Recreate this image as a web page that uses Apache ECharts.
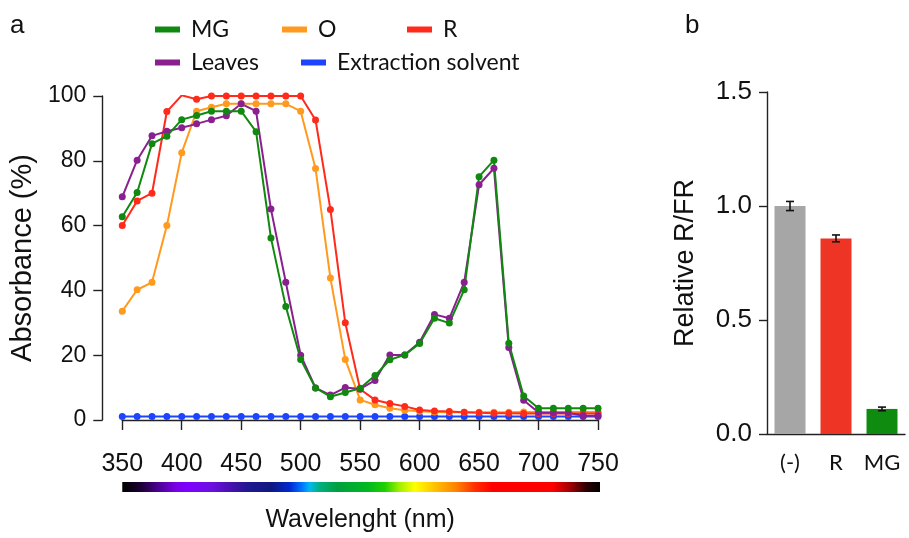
<!DOCTYPE html>
<html><head><meta charset="utf-8">
<script src="https://cdn.jsdelivr.net/npm/echarts/dist/echarts.min.js"></script>
<style>html,body{margin:0;padding:0;background:#fff}#c{width:909px;height:538px}</style>
</head><body><div id="c"></div>
<script>
// ---- Panel a data (wavelength in nm, absorbance in %) ----
const wavelengths = [350,362.5,375,387.5,400,412.5,425,437.5,450,462.5,475,487.5,500,512.5,525,537.5,550,562.5,575,587.5,600,612.5,625,637.5,650,662.5,675,687.5,700,712.5,725,737.5,750];
const mgValues      = [62.7,70.2,85.3,87.6,92.7,94.0,95.3,95.3,95.3,89.0,56.2,35.0,18.7,9.9,7.2,8.5,9.8,13.7,18.6,20.1,23.6,31.4,29.9,40.2,75.1,80.2,23.7,7.4,3.6,3.6,3.6,3.6,3.6];
const orangeValues  = [33.6,40.2,42.5,60.0,82.5,95.3,96.5,97.6,97.6,97.6,97.6,97.6,95.3,77.6,43.8,18.7,6.2,4.7,3.6,3.0,2.7,2.5,2.4,2.4,2.4,2.4,2.4,2.5,2.5,2.5,2.5,2.5,2.5];
const redValues     = [60.0,67.6,70.0,95.2,100.2,99.0,100,100,100,100,100,100,100,92.6,65.0,30.0,9.5,6.2,5.1,4.2,3.1,2.8,2.6,2.4,2.2,2.1,2.1,2.0,2.0,2.0,2.0,2.0,2.0];
const leavesValues  = [68.9,80.2,87.7,89.1,90.2,91.4,92.7,93.9,97.6,95.3,65.1,42.5,20.0,9.9,7.7,10.0,9.6,12.2,20.1,20.1,24.0,32.6,31.4,42.5,72.6,77.7,22.4,6.1,2.3,2.2,2.2,1.3,1.3];
const solventValues = [1.1,1.1,1.1,1.1,1.1,1.1,1.1,1.1,1.1,1.1,1.1,1.1,1.1,1.1,1.1,1.1,1.1,1.1,1.1,1.1,1.1,1.1,1.1,1.1,1.1,1.1,1.1,1.1,1.1,1.1,1.1,1.1,1.1];
const yTicksA = [0,20,40,60,80,100];
const xTicksA = [350,400,450,500,550,600,650,700,750];

// ---- Panel b data ----
const barCategories = ['(-)','R','MG'];
const barValues = [1.0, 0.858, 0.11];
const barErrors = [0.02, 0.015, 0.008];

const COL = {MG:'#10890f', O:'#ff9a1e', R:'#ff2a1a', Leaves:'#8a2090', Sol:'#1c44ff'};
const barColors = ['#a6a6a6','#ee3424','#0f8c10'];
const axisCol = '#222';
const fontA = '"Liberation Sans", Arial, sans-serif';
const fontL = 'Lato, "Open Sans", sans-serif';

function pts(arr){ return wavelengths.map((w,i)=>[w,arr[i]]); }
function lineSeries(name, arr, color){
  return {name, type:'line', xAxisIndex:0, yAxisIndex:0, data:pts(arr),
    symbol:'circle', symbolSize:7, lineStyle:{width:2,color}, itemStyle:{color}};
}
function legendItem(name, left, top){
  return {data:[name], left, top, padding:0, icon:'rect', itemWidth:25, itemHeight:6, itemGap:0,
    selectedMode:false, textStyle:{fontFamily:fontL, fontSize:23, color:'#111', padding:[0,0,0,6]}};
}

const chart = echarts.init(document.getElementById('c'), null, {renderer:'canvas'});
const option = {
  animation:false,
  backgroundColor:'#fff',
  title:[
    {text:'a', left:10, top:13, padding:0, textStyle:{fontFamily:fontA, fontSize:26, fontWeight:'normal', color:'#111'}},
    {text:'b', left:685, top:13, padding:0, textStyle:{fontFamily:fontA, fontSize:26, fontWeight:'normal', color:'#111'}}
  ],
  legend:[
    legendItem('MG',155,18),
    legendItem('O',282,18),
    legendItem('R',407,18),
    legendItem('Leaves',155,51),
    legendItem('Extraction solvent',301,51)
  ],
  grid:[
    {left:120, top:96, width:478, height:325},
    {left:767, top:92, width:138, height:342}
  ],
  xAxis:[
    {type:'value', gridIndex:0, min:xTicksA[0], max:xTicksA[xTicksA.length-1], interval:50, offset:15,
     axisLine:{show:true, lineStyle:{color:axisCol, width:1.4}},
     axisTick:{show:true, length:10, lineStyle:{color:axisCol, width:1.4}},
     axisLabel:{fontFamily:fontA, fontSize:25, color:'#111', margin:17},
     splitLine:{show:false},
     name:'Wavelenght (nm)', nameLocation:'middle', nameGap:73,
     nameTextStyle:{fontFamily:fontA, fontSize:25, color:'#111'}},
    {type:'category', gridIndex:1, data:barCategories,
     axisLine:{show:true, lineStyle:{color:axisCol, width:1.4}},
     axisTick:{show:false},
     axisLabel:{fontFamily:fontL, fontSize:22, color:'#111', margin:18, interval:0},
     splitLine:{show:false}}
  ],
  yAxis:[
    {type:'value', gridIndex:0, min:yTicksA[0], max:yTicksA[yTicksA.length-1], interval:20, offset:20,
     axisLine:{show:true, lineStyle:{color:axisCol, width:1.4}},
     axisTick:{show:true, length:9, lineStyle:{color:axisCol, width:1.4}},
     axisLabel:{fontFamily:fontA, fontSize:23, color:'#111', margin:16},
     splitLine:{show:false},
     name:'Absorbance (%)', nameLocation:'middle', nameGap:62,
     nameTextStyle:{fontFamily:fontA, fontSize:29, color:'#111'}},
    {type:'value', gridIndex:1, min:0, max:1.5, interval:0.5,
     axisLine:{show:true, lineStyle:{color:axisCol, width:1.4}},
     axisTick:{show:true, length:8, lineStyle:{color:axisCol, width:1.4}},
     axisLabel:{fontFamily:fontA, fontSize:26, color:'#111', margin:15, formatter:v=>v.toFixed(1)},
     splitLine:{show:false},
     name:'Relative R/FR', nameLocation:'middle', nameGap:68,
     nameTextStyle:{fontFamily:fontA, fontSize:27, color:'#111'}}
  ],
  series:[
    lineSeries('Extraction solvent', solventValues, COL.Sol),
    lineSeries('O', orangeValues, COL.O),
    lineSeries('R', redValues, COL.R),
    lineSeries('Leaves', leavesValues, COL.Leaves),
    lineSeries('MG', mgValues, COL.MG),
    {type:'bar', xAxisIndex:1, yAxisIndex:1, barWidth:31,
     data:barValues.map((v,i)=>({value:v, itemStyle:{color:barColors[i]}}))},
    {type:'custom', xAxisIndex:1, yAxisIndex:1, z:5,
     data:barValues.map((v,i)=>[i, v-barErrors[i], v+barErrors[i]]),
     renderItem:function(params, api){
       const lo = api.coord([api.value(0), api.value(1)]);
       const hi = api.coord([api.value(0), api.value(2)]);
       const hw = 4;
       const st = {stroke:'#111', lineWidth:1.6};
       return {type:'group', children:[
         {type:'line', shape:{x1:hi[0], y1:hi[1], x2:lo[0], y2:lo[1]}, style:st},
         {type:'line', shape:{x1:hi[0]-hw, y1:hi[1], x2:hi[0]+hw, y2:hi[1]}, style:st},
         {type:'line', shape:{x1:lo[0]-hw, y1:lo[1], x2:lo[0]+hw, y2:lo[1]}, style:st}
       ]};
     }}
  ]
};
chart.setOption(option);

// spectrum colour strip under the wavelength axis
const x0 = chart.convertToPixel({xAxisIndex:0}, xTicksA[0]);
const x1 = chart.convertToPixel({xAxisIndex:0}, xTicksA[xTicksA.length-1]);
const stops = [
  [350,'#000000'],[365,'#1a0030'],[380,'#4a0090'],[395,'#7a00e8'],[405,'#7f00ff'],[425,'#6a10e0'],
  [440,'#4a10b0'],[455,'#201890'],[475,'#101880'],[490,'#0028d0'],[500,'#0070ff'],[507,'#00b8f0'],
  [515,'#00b080'],[530,'#00a040'],[555,'#00b820'],[570,'#20d000'],[582,'#a0f000'],[595,'#ffff00'],
  [612,'#ffc000'],[630,'#ff8000'],[645,'#ff3000'],[660,'#ff0000'],[710,'#ff0000'],[725,'#a00000'],
  [738,'#300000'],[750,'#000000']
];
chart.setOption({graphic:[{type:'rect', silent:true,
  shape:{x:x0, y:482, width:(x1-x0)+2, height:10},
  style:{fill:new echarts.graphic.LinearGradient(0,0,1,0, stops.map(s=>({offset:(s[0]-350)/400, color:s[1]})))}
}]});
</script></body></html>
